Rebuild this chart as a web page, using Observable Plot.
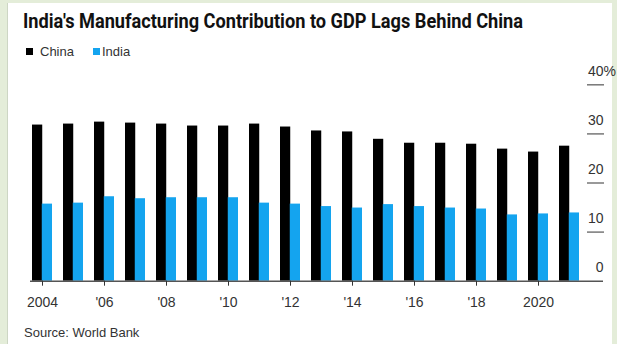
<!DOCTYPE html>
<html><head><meta charset="utf-8">
<script src="https://cdn.jsdelivr.net/npm/d3@7"></script>
<script src="https://cdn.jsdelivr.net/npm/@observablehq/plot@0.6"></script>
<style>
html,body{margin:0;padding:0;}
body{width:617px;height:344px;background:#e4edd9;position:relative;overflow:hidden;font-family:"Liberation Sans",Arial,sans-serif;}
#card{position:absolute;left:8px;top:3px;width:604px;height:341px;background:#fff;box-shadow:-1px 0 0 #cdd6c4;}
#title{position:absolute;left:23px;top:11px;font:700 20px/20px Roboto,"Liberation Sans",sans-serif;color:#111;white-space:nowrap;transform-origin:0 0;}
.sw{position:absolute;width:7px;height:7px;top:48px;}
.lg{position:absolute;top:45px;font-size:13px;line-height:13px;color:#333;}
#chart{position:absolute;left:0;top:60px;}
#source{position:absolute;left:24px;top:326px;font-size:13px;line-height:13px;color:#333;}
</style></head>
<body>
<div id="card"></div>
<div id="title">India's Manufacturing Contribution to GDP Lags Behind China</div>
<div class="sw" style="left:26px;background:#000"></div><div class="lg" style="left:40px">China</div>
<div class="sw" style="left:93px;background:#14a4ef"></div><div class="lg" style="left:102px">India</div>
<div id="chart"></div>
<div id="source">Source: World Bank</div>
<script>
const years = [2004, 2005, 2006, 2007, 2008, 2009, 2010, 2011, 2012, 2013, 2014, 2015, 2016, 2017, 2018, 2019, 2020, 2021];
const china = [31.8, 32.0, 32.4, 32.2, 32.0, 31.6, 31.6, 32.0, 31.4, 30.6, 30.4, 28.9, 28.1, 28.1, 27.9, 26.9, 26.3, 27.5];
const india = [15.7, 15.9, 17.2, 16.8, 17.0, 17.0, 17.0, 15.9, 15.7, 15.2, 14.9, 15.6, 15.2, 14.9, 14.7, 13.5, 13.7, 13.9];
const xTicks = [2004, 2006, 2008, 2010, 2012, 2014, 2016, 2018, 2020];
const yTicks = [0, 10, 20, 30, 40];
const chinaColor = "#000000";
const indiaColor = "#14a4ef";

const data = years.map((year, i) => ({year, china: china[i], india: india[i]}));
const fmtYear = d => (d === 2004 || d === 2020) ? String(d) : "'" + String(d).slice(2);
const half = 31 * 0.63 / 2;

const chart = Plot.plot({
  width: 617,
  height: 255,
  marginTop: 24.3,
  marginBottom: 34.3,
  marginLeft: 30,
  marginRight: 14,
  style: {background: "transparent", fontFamily: "'Liberation Sans', Arial, sans-serif", fontSize: "14px", overflow: "visible"},
  x: {type: "band", domain: years, range: [26.5, 584.5], paddingInner: 0.37, paddingOuter: 0.185},
  y: {domain: [0, 40]},
  marks: [
    Plot.barY(data, {x: "year", y: "china", fill: chinaColor, insetRight: half}),
    Plot.barY(data, {x: "year", y: "india", fill: indiaColor, insetLeft: half}),
    Plot.ruleY([0], {stroke: "#555", strokeWidth: 1.5}),
    Plot.axisX({ticks: xTicks, tickSize: 5, tickPadding: 11, tickFormat: fmtYear, fontSize: 14, color: "#333", label: null}),
    Plot.axisY({anchor: "right", ticks: yTicks.slice(1), tickSize: 17, dx: -17, tickFormat: () => "", color: "#777", strokeWidth: 1.5, label: null}),
    Plot.axisY({anchor: "right", ticks: yTicks, tickSize: 0, tickPadding: 0, textAnchor: "end", dy: -13.5, fontSize: 14, color: "#333", label: null}),
    Plot.text([40], {y: d => d, text: () => "%", frameAnchor: "right", textAnchor: "start", dy: -13.5, fontSize: 14, fill: "#333"})
  ]
});
document.getElementById("chart").appendChild(chart);

const t = document.getElementById("title");
t.style.display = "inline-block";
const w = t.getBoundingClientRect().width;
t.style.transform = `scaleX(${500 / w})`;
</script>
</body></html>
